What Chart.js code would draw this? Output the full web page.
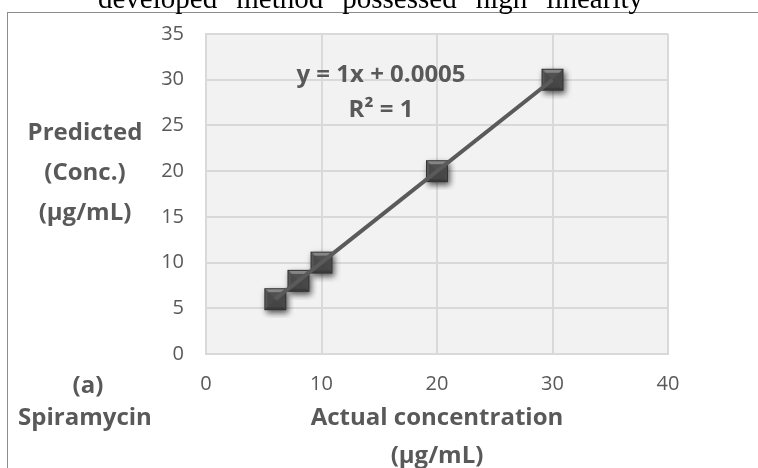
<!DOCTYPE html>
<html>
<head>
<meta charset="utf-8">
<script src="https://cdn.jsdelivr.net/npm/chart.js@4.4.1/dist/chart.umd.min.js"></script>
<style>
html, body { margin: 0; padding: 0; background: #fff; }
#wrap { width: 758px; height: 468px; position: relative; }
</style>
</head>
<body>
<div id="wrap"><canvas id="calChart" width="758" height="468"></canvas></div>
<script>
// calibration data: actual vs predicted concentration (ug/mL)
var actualConc = [6, 8, 10, 20, 30];
var predictedConc = [6, 8, 10, 20, 30];
var xTicks = [0, 10, 20, 30, 40];
var yTicks = [0, 5, 10, 15, 20, 25, 30, 35];

// linear fit shown on the chart
var slope = 1;
var intercept = 0.0005;
var rSquared = 1;

var captionWords = ["developed", "method", "possessed", "high", "linearity"];
var yTitleLines = ["Predicted", "(Conc.)", "(\u00b5g/mL)"];
var xTitleLines = ["Actual concentration", "(\u00b5g/mL)"];
var sampleLines = ["(a)", "Spiramycin"];

var textGrey = "#595959";
var boldFont = "bold 24px 'Open Sans'";

// square marker with a bevelled look
function bevelSquare() {
    var c = document.createElement("canvas");
    c.width = 38; c.height = 38;
    var g = c.getContext("2d");
    var s = 22, o = 8, m = o + s / 2;
    g.save();
    g.shadowColor = "rgba(0,0,0,0.65)";
    g.shadowBlur = 6;
    g.shadowOffsetX = 1.5;
    g.shadowOffsetY = 3;
    g.fillStyle = "#444";
    g.fillRect(o, o, s, s);
    g.restore();
    var faces = [
        [[o, o], [o + s, o], [m, m], "#868686"],
        [[o, o], [m, m], [o, o + s], "#575757"],
        [[o + s, o], [o + s, o + s], [m, m], "#494949"],
        [[o, o + s], [m, m], [o + s, o + s], "#3a3a3a"]
    ];
    faces.forEach(function (f) {
        g.beginPath();
        g.moveTo(f[0][0], f[0][1]);
        g.lineTo(f[1][0], f[1][1]);
        g.lineTo(f[2][0], f[2][1]);
        g.closePath();
        g.fillStyle = f[3];
        g.fill();
    });
    g.fillStyle = "rgba(72,72,72,0.85)";
    g.fillRect(o + 3, o + 4, s - 6, s - 7);
    g.strokeStyle = "#333";
    g.lineWidth = 1;
    g.strokeRect(o + 0.5, o + 0.5, s - 1, s - 1);
    return c;
}

var points = actualConc.map(function (x, i) { return { x: x, y: predictedConc[i] }; });
var xMin = Math.min.apply(null, actualConc);
var xMax = Math.max.apply(null, actualConc);
var trendPoints = [
    { x: xMin, y: slope * xMin + intercept },
    { x: xMax, y: slope * xMax + intercept }
];

var decorations = {
    id: "decorations",
    beforeDraw: function (chart) {
        var ctx = chart.ctx, a = chart.chartArea;
        ctx.save();
        ctx.fillStyle = "#fff";
        ctx.fillRect(0, 0, chart.width, chart.height);
        // outer frame
        ctx.strokeStyle = "#8c8c8c";
        ctx.lineWidth = 1;
        ctx.strokeRect(7.5, 12.5, 760, 470);
        // plot background
        ctx.fillStyle = "#f2f2f2";
        ctx.fillRect(a.left, a.top, a.right - a.left, a.bottom - a.top);
        // caption line cut at the top
        ctx.fillStyle = "#000";
        ctx.font = "29px 'Liberation Serif'";
        ctx.textBaseline = "alphabetic";
        ctx.textAlign = "left";
        var x0 = 98, x1 = 643, total = 0;
        captionWords.forEach(function (w) { total += ctx.measureText(w).width; });
        var gap = (x1 - x0 - total) / (captionWords.length - 1);
        var cx = x0;
        captionWords.forEach(function (w) {
            ctx.fillText(w, cx, 8);
            cx += ctx.measureText(w).width + gap;
        });
        ctx.restore();
    },
    afterDraw: function (chart) {
        var ctx = chart.ctx;
        var xs = chart.scales.x;
        ctx.save();
        ctx.fillStyle = textGrey;
        ctx.font = boldFont;
        ctx.textAlign = "center";
        ctx.textBaseline = "alphabetic";
        // fit equation
        ctx.fillText("y = " + slope + "x + " + intercept, 381, 82);
        ctx.fillText("R\u00b2 = " + rSquared, 381, 117);
        // axis titles
        [140, 180, 220].forEach(function (y, i) { ctx.fillText(yTitleLines[i], 85, y); });
        var midX = (xs.left + xs.right) / 2;
        ctx.fillText(xTitleLines[0], midX, 425);
        ctx.fillText(xTitleLines[1], midX, 463);
        ctx.fillText(sampleLines[0], 88, 393);
        ctx.fillText(sampleLines[1], 85, 425);
        ctx.restore();
    }
};

var ctx = document.getElementById("calChart").getContext("2d");
var myChart = new Chart(ctx, {
    type: "scatter",
    data: {
        datasets: [
            {
                label: "Linear fit",
                data: trendPoints,
                showLine: true,
                borderColor: "#5a5a5a",
                borderWidth: 4,
                pointRadius: 0,
                fill: false
            },
            {
                label: "Spiramycin",
                data: points,
                pointStyle: bevelSquare(),
                pointRadius: 11,
                showLine: false
            }
        ]
    },
    options: {
        responsive: false,
        animation: false,
        devicePixelRatio: 1,
        layout: { padding: { top: 33, right: 90, left: 0, bottom: 0 } },
        plugins: {
            legend: { display: false },
            tooltip: { enabled: false }
        },
        scales: {
            x: {
                type: "linear",
                min: xTicks[0],
                max: xTicks[xTicks.length - 1],
                ticks: {
                    stepSize: xTicks[1] - xTicks[0],
                    color: textGrey,
                    font: { family: "'Open Sans'", size: 20 },
                    padding: 18
                },
                grid: { color: "#d9d9d9", lineWidth: 2, drawTicks: false },
                border: { display: true, color: "#d9d9d9", width: 2 },
                afterFit: function (scale) { scale.height = 114; }
            },
            y: {
                type: "linear",
                min: yTicks[0],
                max: yTicks[yTicks.length - 1],
                ticks: {
                    stepSize: yTicks[1] - yTicks[0],
                    color: textGrey,
                    font: { family: "'Open Sans'", size: 20 },
                    padding: 22
                },
                grid: { color: "#d9d9d9", lineWidth: 2, drawTicks: false },
                border: { display: true, color: "#d9d9d9", width: 2 },
                afterFit: function (scale) { scale.width = 206; }
            }
        }
    },
    plugins: [decorations]
});
</script>
</body>
</html>
